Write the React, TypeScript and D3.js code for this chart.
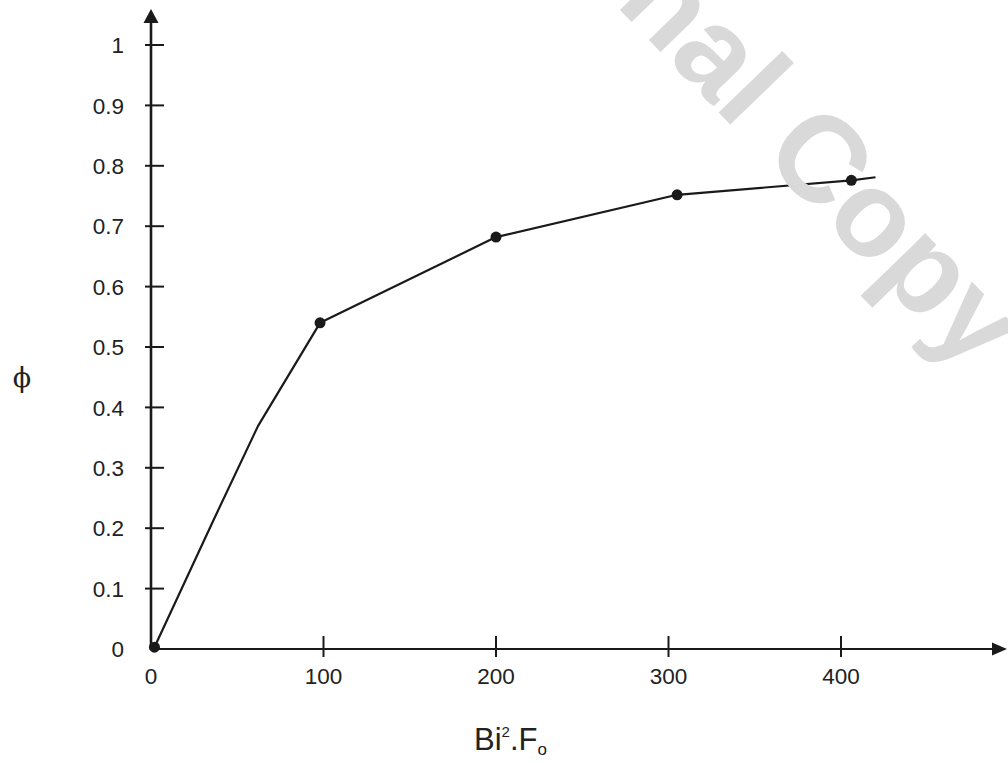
import React from "react";
import * as d3 from "d3";

const xTicks = [0, 100, 200, 300, 400];
const yTicks = [0, 0.1, 0.2, 0.3, 0.4, 0.5, 0.6, 0.7, 0.8, 0.9, 1];
const yTickLabels = ["0", "0.1", "0.2", "0.3", "0.4", "0.5", "0.6", "0.7", "0.8", "0.9", "1"];

// curve (polyline) through the measured points
const lineX = [2, 36, 62, 98, 200, 305, 406, 420];
const lineY = [0.003, 0.212, 0.369, 0.54, 0.682, 0.752, 0.776, 0.781];

// measured points (dots)
const pointX = [2, 98, 200, 305, 406];
const pointY = [0.003, 0.54, 0.682, 0.752, 0.776];

const W = 1008;
const H = 763;
const FONT = "'Liberation Sans', Arial, Helvetica, sans-serif";
const INK = "#1a1a1a";

export default function App() {
  const x = d3.scaleLinear().domain([0, 400]).range([151, 841]);
  const y = d3.scaleLinear().domain([0, 1]).range([649, 45]);
  const x0 = x(0);
  const y0 = y(0);

  const pts: [number, number][] = lineX.map((v, i) => [v, lineY[i]]);
  const line = d3
    .line<[number, number]>()
    .x((d) => x(d[0]))
    .y((d) => y(d[1]));

  return (
    <svg
      width={W}
      height={H}
      viewBox={`0 0 ${W} ${H}`}
      style={{ position: "absolute", left: 0, top: 0, background: "#fff" }}
    >
      <rect x={0} y={0} width={W} height={H} fill="#fff" />

      {/* axes */}
      <line x1={x0} y1={y0 + 1} x2={x0} y2={20} stroke={INK} strokeWidth={2.6} />
      <path d={`M${x0},9 L${x0 - 7.5},23 L${x0 + 7.5},23 Z`} fill={INK} />
      <line x1={x0 - 1} y1={y0} x2={995} y2={y0} stroke={INK} strokeWidth={2.2} />
      <path d={`M1007,${y0} L992,${y0 - 6.5} L992,${y0 + 6.5} Z`} fill={INK} />

      {/* y ticks */}
      {yTicks.map((t, i) => (
        <g key={"y" + i}>
          {t > 0 && (
            <line x1={x0 - 6} x2={x0 + 13} y1={y(t)} y2={y(t)} stroke={INK} strokeWidth={2} />
          )}
          <text
            x={124}
            y={y(t)}
            dy="0.36em"
            textAnchor="end"
            fontFamily={FONT}
            fontSize={22.5}
            fill="#222"
          >
            {yTickLabels[i]}
          </text>
        </g>
      ))}

      {/* x ticks */}
      {xTicks.map((t, i) => (
        <g key={"x" + i}>
          {t > 0 && (
            <line x1={x(t)} x2={x(t)} y1={y0 - 13} y2={y0 + 8} stroke={INK} strokeWidth={2} />
          )}
          <text
            x={x(t)}
            y={684}
            textAnchor="middle"
            fontFamily={FONT}
            fontSize={22.5}
            fill="#222"
          >
            {t}
          </text>
        </g>
      ))}

      {/* data */}
      <path d={line(pts) || ""} fill="none" stroke={INK} strokeWidth={2.2} strokeLinejoin="round" />
      {pointX.map((v, i) => (
        <circle key={"p" + i} cx={x(v)} cy={y(pointY[i])} r={5.5} fill={INK} />
      ))}

      {/* axis titles */}
      <text x={22} y={378} dy="0.35em" textAnchor="middle" fontFamily="'DejaVu Serif', 'Liberation Serif', serif" fontSize={27} fill="#222">
        ϕ
      </text>
      <text x={474} y={750} fontFamily={FONT} fontSize={31} fill="#222">
        Bi
        <tspan fontSize={15} dy={-13}>2</tspan>
        <tspan fontSize={31} dy={13}>.F</tspan>
        <tspan fontSize={17} dy={5}>o</tspan>
      </text>

      {/* watermark */}
      <g transform="translate(760,155) rotate(46)" fill="#d9d9d9" fontFamily={FONT} fontWeight="bold" fontSize={122}>
        <text x={-34} y={0} textAnchor="end">Personal</text>
        <text x={0} y={0}>Copy</text>
      </g>
    </svg>
  );
}
